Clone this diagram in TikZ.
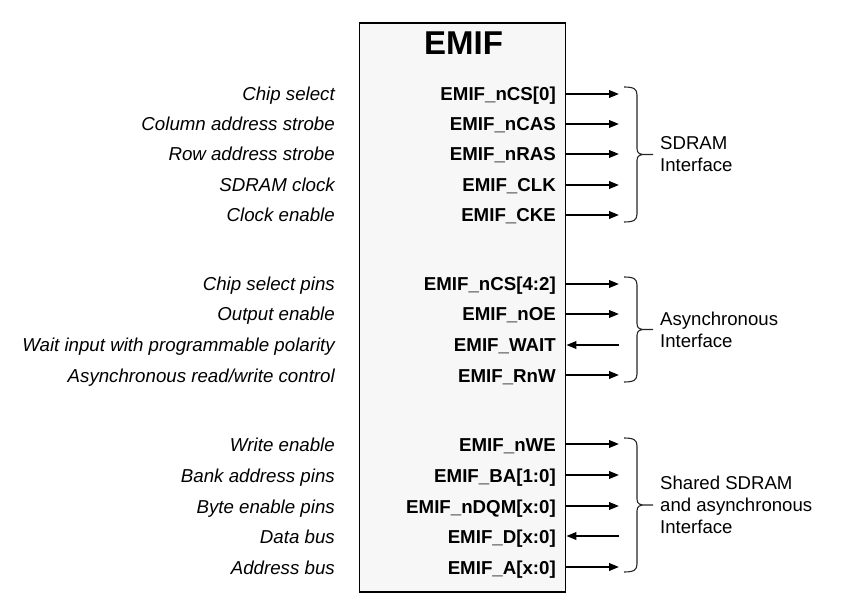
\documentclass[tikz,border=0pt]{standalone}
\usepackage{fontspec}
\setmainfont{Liberation Sans}
\usetikzlibrary{arrows.meta}
\newcommand\sigbrace[4]{%
  \draw[bracestyle] (624,#1) .. controls (634,#1) and (637,{#1+2}) .. (637,{#1+8})
    -- (637,{#3-6}) .. controls (637,{#3-1}) and (640,#3) .. (645,#3) -- (653,#3)
    (645,#3) .. controls (640,#3) and (637,{#3+1}) .. (637,{#3+6})
    -- (637,{#2-8}) .. controls (637,{#2-2}) and (634,#2) .. (624,#2);
  \coordinate (#4) at (653,#3);}
\begin{document}
\begin{tikzpicture}[x=1pt,y=-1pt,
  lab/.style={anchor=base east, font=\fontsize{18.7}{22}\selectfont\itshape, inner sep=0pt},
  pinlab/.style={anchor=base east, font=\fontsize{18.7}{22}\selectfont\bfseries, inner sep=0pt},
  grp/.style={anchor=west, align=left, font=\fontsize{18.6}{22}\selectfont, inner sep=0pt},
  sig/.style={line width=2pt, -{Triangle[length=10pt,width=7.5pt]}},
  bracestyle/.style={line width=1.1pt, draw=black!85},
  chip/.style={draw=black, line width=1.3pt, fill=black!3, minimum width=206pt, minimum height=569pt, inner sep=0pt}
]
\useasboundingbox (0,0) rectangle (848,609);
\node[chip] (box) at (462.7,307.5) {};
\node[anchor=base, font=\fontsize{33}{36}\selectfont\bfseries, inner sep=0pt] (title) at (463.5,55) {EMIF};

% rows: y positions
\def\ya{94}\def\yb{124}\def\yc{154}\def\yd{185}\def\ye{215}
\def\yf{284}\def\yg{314}\def\yh{345}\def\yi{375}
\def\yj{444}\def\yk{475}\def\yl{506}\def\ym{536}\def\yn{567}

\node[lab] (l1) at (335,\ya+7) {Chip select};
\node[lab] (l2) at (335,\yb+7) {Column address strobe};
\node[lab] (l3) at (335,\yc+7) {Row address strobe};
\node[lab] (l4) at (335,\yd+7) {SDRAM clock};
\node[lab] (l5) at (335,\ye+7) {Clock enable};
\node[lab] (l6) at (335,\yf+7) {Chip select pins};
\node[lab] (l7) at (335,\yg+7) {Output enable};
\node[lab] (l8) at (335,\yh+7) {Wait input with programmable polarity};
\node[lab] (l9) at (335,\yi+7) {Asynchronous read/write control};
\node[lab] (l10) at (335,\yj+7) {Write enable};
\node[lab] (l11) at (335,\yk+7) {Bank address pins};
\node[lab] (l12) at (335,\yl+7) {Byte enable pins};
\node[lab] (l13) at (335,\ym+7) {Data bus};
\node[lab] (l14) at (335,\yn+7) {Address bus};

\node[pinlab] (p1) at (556,\ya+7) {EMIF\_nCS[0]};
\node[pinlab] (p2) at (556,\yb+7) {EMIF\_nCAS};
\node[pinlab] (p3) at (556,\yc+7) {EMIF\_nRAS};
\node[pinlab] (p4) at (556,\yd+7) {EMIF\_CLK};
\node[pinlab] (p5) at (556,\ye+7) {EMIF\_CKE};
\node[pinlab] (p6) at (556,\yf+7) {EMIF\_nCS[4:2]};
\node[pinlab] (p7) at (556,\yg+7) {EMIF\_nOE};
\node[pinlab] (p8) at (556,\yh+7) {EMIF\_WAIT};
\node[pinlab] (p9) at (556,\yi+7) {EMIF\_RnW};
\node[pinlab] (p10) at (556,\yj+7) {EMIF\_nWE};
\node[pinlab] (p11) at (556,\yk+7) {EMIF\_BA[1:0]};
\node[pinlab] (p12) at (556,\yl+7) {EMIF\_nDQM[x:0]};
\node[pinlab] (p13) at (556,\ym+7) {EMIF\_D[x:0]};
\node[pinlab] (p14) at (556,\yn+7) {EMIF\_A[x:0]};

\foreach \n/\y in {1/\ya,2/\yb,3/\yc,4/\yd,5/\ye,6/\yf,7/\yg,8/\yh,9/\yi,10/\yj,11/\yk,12/\yl,13/\ym,14/\yn}{
  \coordinate (s\n) at (box.east |- {(0,\y)});
  \coordinate (e\n) at (619,\y);
}
\foreach \n in {1,2,3,4,5,6,7,9,10,11,12,14}{ \draw[sig] (s\n) -- (e\n); }
\foreach \n in {8,13}{ \draw[sig] (e\n) -- (s\n); }

\sigbrace{87}{222}{154.5}{br1}
\sigbrace{277}{382}{329.5}{br2}
\sigbrace{438}{572}{505}{br3}

\node[grp] (g1) at (660,154.5) {SDRAM\\Interface};
\node[grp] (g2) at (660,330) {Asynchronous\\Interface};
\node[grp] (g3) at (660,504.5) {Shared SDRAM\\and asynchronous\\Interface};
\end{tikzpicture}
\end{document}
